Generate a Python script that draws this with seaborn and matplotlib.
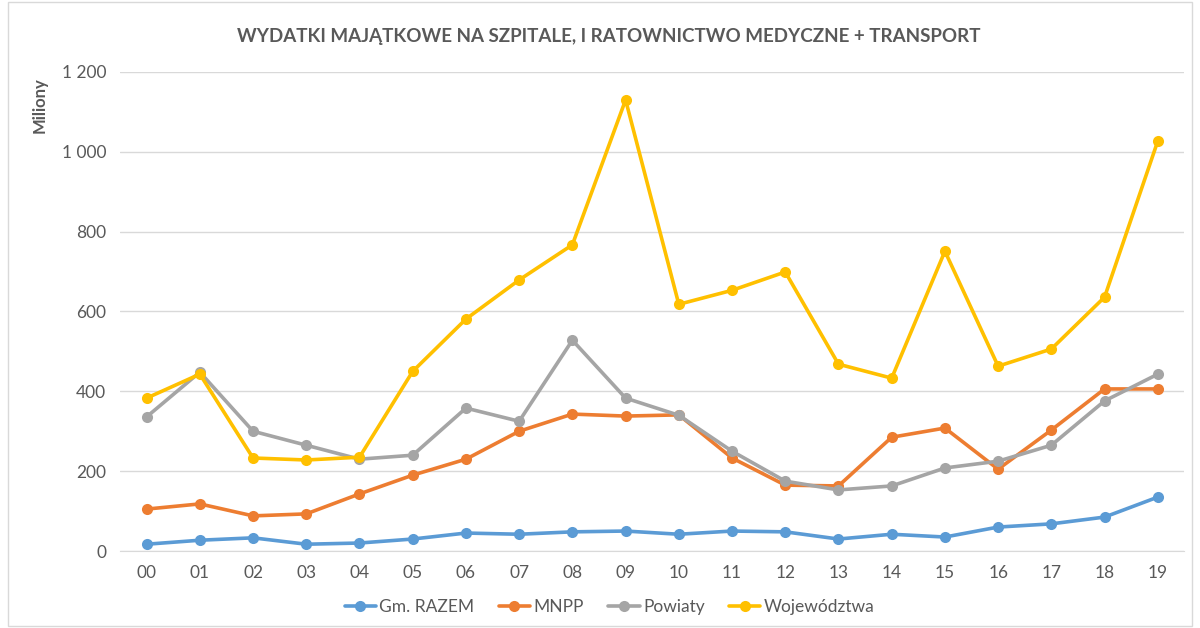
import pandas as pd
import matplotlib.pyplot as plt
import matplotlib.ticker as mticker
import seaborn as sns

# data (millions)
years = ["00", "01", "02", "03", "04", "05", "06", "07", "08", "09",
         "10", "11", "12", "13", "14", "15", "16", "17", "18", "19"]
gm_razem = [17, 27, 33, 17, 20, 30, 45, 42, 48, 50, 42, 50, 48, 30, 42, 35, 60, 68, 85, 135]
mnpp = [105, 118, 88, 93, 143, 190, 230, 300, 343, 338, 341, 233, 165, 163, 285, 308, 205, 303, 406, 406]
powiaty = [336, 448, 300, 265, 230, 240, 358, 325, 528, 383, 340, 250, 175, 153, 163, 208, 225, 265, 376, 443]
wojewodztwa = [383, 443, 233, 228, 235, 450, 581, 679, 767, 1130, 618, 653, 699, 468, 433, 751, 463, 506, 636, 1027]

series_names = ["Gm. RAZEM", "MNPP", "Powiaty", "Województwa"]
colors = ["#5B9BD5", "#ED7D31", "#A5A5A5", "#FFC000"]

rows = []
for name, vals in zip(series_names, [gm_razem, mnpp, powiaty, wojewodztwa]):
    for i, v in enumerate(vals):
        rows.append({"x": i, "rok": years[i], "seria": name, "wartosc": v})
df = pd.DataFrame(rows)

sns.set_style("white")
plt.rcParams["font.family"] = ["Lato", "DejaVu Sans"]

fig = plt.figure(figsize=(12, 6.28), dpi=100)
ax = fig.add_axes([0.1, 0.1226, 0.887, 0.7628])

sns.lineplot(data=df, x="x", y="wartosc", hue="seria", hue_order=series_names,
             palette=colors, marker="o", markersize=8, markeredgewidth=0,
             linewidth=2.6, ax=ax)

text_col = "#595959"
ax.set_xlim(-0.5, 19.5)
ax.set_ylim(0, 1200)
ax.set_yticks(range(0, 1201, 200))
ax.yaxis.set_major_formatter(mticker.FuncFormatter(lambda v, p: f"{int(v):,}".replace(",", " ")))
ax.set_xticks(range(len(years)))
ax.set_xticklabels(years)
ax.tick_params(axis="both", length=0, labelsize=12.5, labelcolor=text_col, pad=10)
ax.grid(axis="y", color="#D9D9D9", linewidth=1)
ax.set_axisbelow(True)
for side in ["top", "right", "left"]:
    ax.spines[side].set_visible(False)
ax.spines["bottom"].set_color("#D9D9D9")

ax.set_xlabel("")
ax.set_ylabel("Miliony", fontsize=12, color=text_col, fontweight="bold")
ax.yaxis.set_label_coords(-0.068, 0.93)

fig.suptitle("WYDATKI MAJĄTKOWE NA SZPITALE, I RATOWNICTWO MEDYCZNE + TRANSPORT",
             x=0.507, y=0.955, fontsize=13.5, fontweight="bold", color=text_col)

handles, labels = ax.get_legend_handles_labels()
ax.get_legend().remove()
fig.legend(handles, labels, loc="center", bbox_to_anchor=(0.508, 0.034),
           ncol=4, frameon=False, fontsize=12.5, labelcolor=text_col,
           handlelength=1.8, handletextpad=0.2, columnspacing=1.4)

# thin chart border like the spreadsheet export
fig.patches.append(plt.Rectangle((0.007, 0.003), 0.986, 0.994, transform=fig.transFigure,
                                 fill=False, edgecolor="#D9D9D9", linewidth=1))

fig.savefig("out.png", dpi=100)
